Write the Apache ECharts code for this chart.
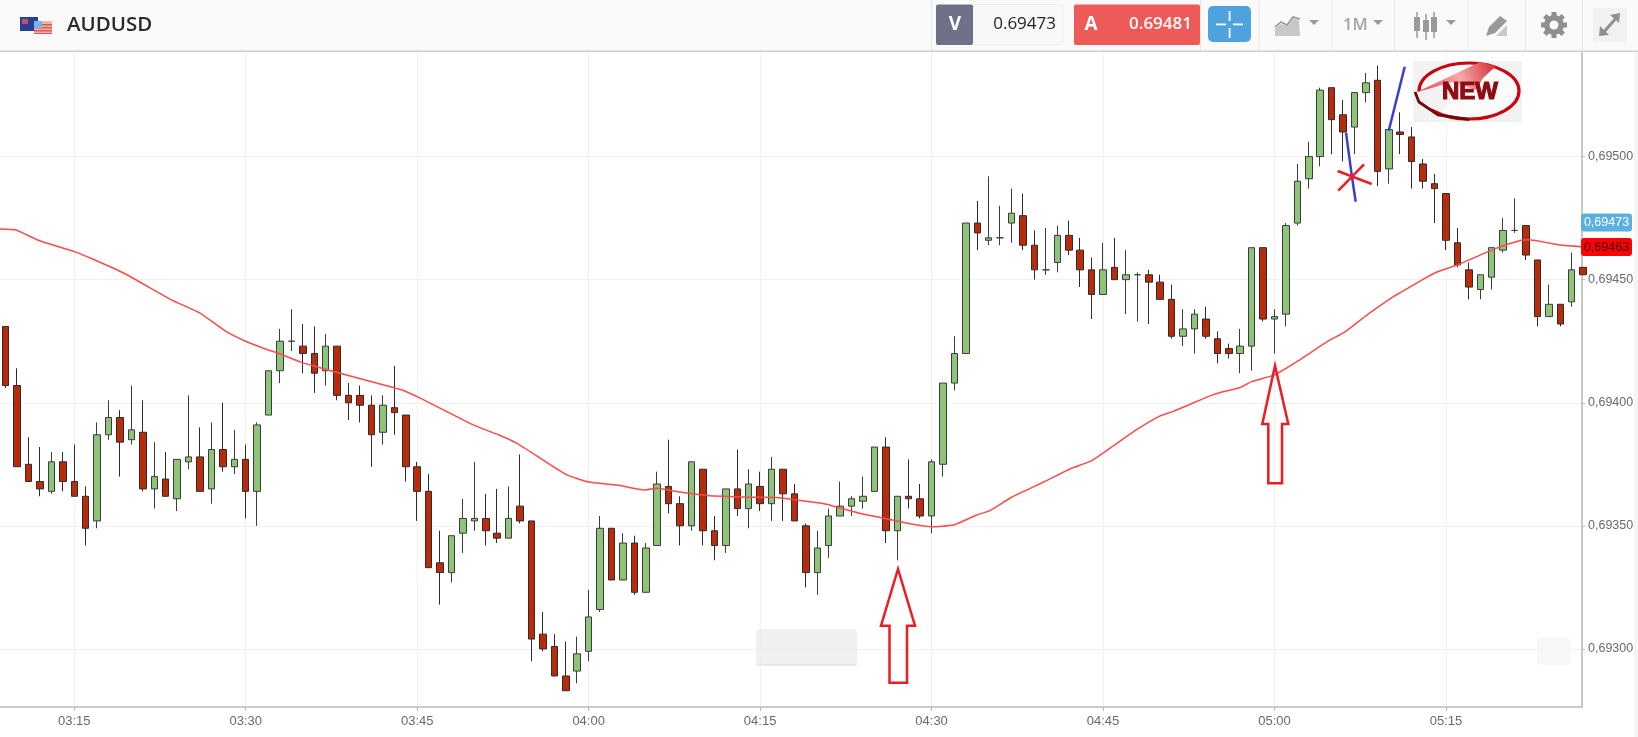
<!DOCTYPE html>
<html><head><meta charset="utf-8"><style>html,body{margin:0;padding:0;background:#fff}#c{width:1638px;height:737px}</style>
<script src="https://cdn.jsdelivr.net/npm/echarts@6/dist/echarts.min.js"></script></head><body><div id="c"></div><script>
const title = 'AUDUSD';
const firstMinute = 189; // 03:09, one candle per minute
const opens = [0.69431,0.69407,0.69375,0.69368,0.69364,0.69376,0.69368,0.69362,0.69352,0.69387,0.69394,0.69385,0.69388,0.69365,0.69369,0.69361,0.69376,0.69378,0.69365,0.69381,0.69374,0.69377,0.69364,0.69395,0.69413,0.69425,0.69423,0.69420,0.69413,0.69423,0.69403,0.69403,0.69399,0.69388,0.69398,0.69395,0.69374,0.69364,0.69335,0.69331,0.69347,0.69352,0.69353,0.69347,0.69345,0.69358,0.69352,0.69306,0.69301,0.69289,0.69291,0.69299,0.69316,0.69349,0.69328,0.69343,0.69323,0.69342,0.69366,0.69359,0.69350,0.69373,0.69348,0.69342,0.69365,0.69357,0.69366,0.69359,0.69373,0.69363,0.69350,0.69331,0.69342,0.69354,0.69358,0.69360,0.69364,0.69382,0.69348,0.69362,0.69361,0.69354,0.69375,0.69408,0.69420,0.69473,0.69466,0.69467,0.69473,0.69476,0.69464,0.69454,0.69457,0.69468,0.69462,0.69454,0.69444,0.69455,0.69450,0.69452,0.69452,0.69449,0.69442,0.69427,0.69430,0.69434,0.69426,0.69422,0.69420,0.69423,0.69463,0.69434,0.69436,0.69473,0.69491,0.69500,0.69528,0.69517,0.69512,0.69526,0.69531,0.69495,0.69510,0.69508,0.69497,0.69489,0.69485,0.69465,0.69454,0.69446,0.69451,0.69462,0.69470,0.69472,0.69458,0.69435,0.69440,0.69441,0.69455];
const closes = [0.69407,0.69374,0.69368,0.69365,0.69376,0.69368,0.69362,0.69349,0.69387,0.69394,0.69384,0.69389,0.69365,0.69370,0.69362,0.69377,0.69378,0.69364,0.69381,0.69374,0.69377,0.69364,0.69391,0.69413,0.69425,0.69425,0.69420,0.69412,0.69423,0.69403,0.69400,0.69399,0.69387,0.69399,0.69396,0.69374,0.69364,0.69333,0.69331,0.69346,0.69353,0.69353,0.69348,0.69345,0.69353,0.69352,0.69304,0.69300,0.69289,0.69283,0.69298,0.69313,0.69349,0.69328,0.69343,0.69323,0.69341,0.69367,0.69359,0.69350,0.69376,0.69348,0.69342,0.69365,0.69357,0.69367,0.69359,0.69373,0.69363,0.69352,0.69331,0.69341,0.69354,0.69358,0.69361,0.69362,0.69382,0.69348,0.69362,0.69361,0.69354,0.69376,0.69408,0.69420,0.69473,0.69469,0.69467,0.69467,0.69477,0.69464,0.69454,0.69454,0.69468,0.69462,0.69454,0.69444,0.69454,0.69450,0.69452,0.69452,0.69449,0.69442,0.69427,0.69430,0.69436,0.69427,0.69420,0.69420,0.69423,0.69463,0.69434,0.69435,0.69472,0.69490,0.69500,0.69527,0.69515,0.69510,0.69526,0.69530,0.69494,0.69511,0.69509,0.69498,0.69490,0.69487,0.69466,0.69456,0.69447,0.69452,0.69463,0.69470,0.69470,0.69460,0.69435,0.69440,0.69432,0.69454,0.69452];
const lows = [0.69406,0.69374,0.69368,0.69362,0.69363,0.69364,0.69362,0.69342,0.69349,0.69385,0.69370,0.69383,0.69364,0.69357,0.69362,0.69356,0.69373,0.69364,0.69359,0.69372,0.69371,0.69353,0.69350,0.69395,0.69408,0.69421,0.69412,0.69404,0.69407,0.69401,0.69393,0.69392,0.69374,0.69383,0.69387,0.69368,0.69352,0.69333,0.69318,0.69327,0.69339,0.69348,0.69342,0.69343,0.69345,0.69351,0.69295,0.69299,0.69289,0.69283,0.69286,0.69295,0.69315,0.69328,0.69328,0.69322,0.69323,0.69342,0.69355,0.69342,0.69348,0.69342,0.69336,0.69339,0.69354,0.69349,0.69356,0.69352,0.69352,0.69352,0.69325,0.69322,0.69337,0.69354,0.69354,0.69357,0.69364,0.69343,0.69336,0.69357,0.69353,0.69347,0.69370,0.69405,0.69420,0.69462,0.69464,0.69464,0.69465,0.69462,0.69450,0.69452,0.69453,0.69460,0.69447,0.69434,0.69444,0.69450,0.69436,0.69433,0.69432,0.69442,0.69426,0.69423,0.69420,0.69426,0.69416,0.69418,0.69412,0.69413,0.69433,0.69420,0.69431,0.69472,0.69487,0.69496,0.69501,0.69498,0.69501,0.69522,0.69488,0.69489,0.69501,0.69487,0.69487,0.69473,0.69462,0.69455,0.69442,0.69442,0.69446,0.69461,0.69469,0.69458,0.69431,0.69435,0.69431,0.69439,0.69452];
const highs = [0.69431,0.69414,0.69386,0.69382,0.69380,0.69380,0.69383,0.69366,0.69392,0.69401,0.69397,0.69407,0.69401,0.69384,0.69380,0.69377,0.69403,0.69390,0.69392,0.69400,0.69389,0.69383,0.69392,0.69413,0.69430,0.69438,0.69432,0.69431,0.69428,0.69423,0.69408,0.69407,0.69403,0.69403,0.69415,0.69395,0.69376,0.69371,0.69348,0.69346,0.69361,0.69376,0.69363,0.69365,0.69366,0.69379,0.69352,0.69315,0.69306,0.69303,0.69305,0.69324,0.69354,0.69349,0.69347,0.69346,0.69343,0.69372,0.69385,0.69362,0.69376,0.69373,0.69354,0.69365,0.69381,0.69373,0.69372,0.69378,0.69373,0.69367,0.69351,0.69348,0.69357,0.69368,0.69362,0.69370,0.69382,0.69386,0.69362,0.69377,0.69367,0.69377,0.69408,0.69427,0.69473,0.69482,0.69492,0.69480,0.69487,0.69485,0.69470,0.69471,0.69472,0.69474,0.69467,0.69459,0.69465,0.69467,0.69462,0.69453,0.69454,0.69452,0.69448,0.69438,0.69438,0.69439,0.69429,0.69424,0.69430,0.69463,0.69463,0.69438,0.69473,0.69497,0.69506,0.69528,0.69528,0.69523,0.69526,0.69534,0.69537,0.69511,0.69518,0.69512,0.69499,0.69493,0.69485,0.69471,0.69457,0.69452,0.69463,0.69475,0.69483,0.69472,0.69458,0.69448,0.69440,0.69461,0.69455];
const maMinutes = [188.5,189.9,191.9,195,196.6,199.4,203.5,206,208.2,209.9,212.1,212.7,214.75,215.9,218,222.9,223.9,225.3,229.9,232.25,233.7,236,238.1,240,242.5,244.9,246,248,250.3,254.1,256.4,258.8,260.8,263.7,265.8,268.1,270,271.9,273.95,275.1,277,279.9,282.1,284,285.9,287.9,290,291.1,294.4,295.2,297,298,300,302.2,304.6,306.2,308.1,310.4,311,312.8,314.1,316,319.2,321.5,322.2,325,326.9];
const maValues = [0.694706,0.694702,0.694659,0.694614,0.694584,0.694525,0.694418,0.694364,0.694292,0.694252,0.694212,0.694204,0.694166,0.69415,0.694123,0.694062,0.694048,0.694018,0.69391,0.693867,0.693836,0.693768,0.693707,0.693678,0.693666,0.693646,0.693653,0.693637,0.693623,0.693616,0.693615,0.693601,0.693588,0.693551,0.693531,0.693508,0.693496,0.693503,0.693544,0.693562,0.693616,0.69368,0.693731,0.693765,0.693825,0.69389,0.693947,0.693964,0.694029,0.694041,0.694062,0.694086,0.694113,0.694174,0.694248,0.694289,0.694357,0.694431,0.694447,0.694496,0.694529,0.69456,0.694624,0.694659,0.694662,0.694641,0.694634];
const timeTicks = ['03:15','03:30','03:45','04:00','04:15','04:30','04:45','05:00','05:15'];
const priceTicks = [0.693,0.6935,0.694,0.6945,0.695];
const bidLabel = '0.69473', askLabel = '0.69481', bidTag = '0,69473', maTag = '0,69463';

const candles = opens.map((o,i)=>[firstMinute+i,o,closes[i],lows[i],highs[i]]);
const maLine = maMinutes.map((m,i)=>[m,maValues[i]]);
const toClock = m => String(Math.floor(m/60)).padStart(2,'0')+':'+String(m%60).padStart(2,'0');
const SANS='"Open Sans",sans-serif', ARIAL='"Liberation Sans",Arial,sans-serif';
const rect=(x,y,w,h,fill,extra={})=>({type:'rect',shape:{x,y,width:w,height:h,r:extra.r||0},style:{fill,stroke:extra.stroke,lineWidth:extra.lw||0},z:extra.z||5,silent:true});
const txt=(x,y,text,font,fill,align='left',z=8)=>({type:'text',x,y,style:{text,font,fill,align,verticalAlign:'middle'},z,silent:true});
const poly=(pts,stroke,lw,fill)=>({type:'polyline',shape:{points:pts},style:{stroke,lineWidth:lw,fill:fill||null,lineJoin:'miter'},z:9,silent:true});
const pgon=(pts,fill)=>({type:'polygon',shape:{points:pts},style:{fill},z:9,silent:true});
const arrow=(tip,l,il,b,r,ir,sy,by)=>({type:'polygon',shape:{points:[[tip[0],tip[1]],[l,sy],[il,sy],[il,by],[ir,by],[ir,sy],[r,sy]]},style:{fill:null,stroke:'#ed1c24',lineWidth:2.5},z:9,silent:true});
const G='#9a9a9a';
const curl=new echarts.graphic.LinearGradient(0,1,1,0,[{offset:0,color:'#f03a44'},{offset:0.55,color:'#f7a9ac'},{offset:1,color:'#d2282e'}]);
const graphics=[
 rect(0,0,1638,51,'#fafafa',{z:4}), rect(0,50.5,1638,1.5,'#cfcfcf',{z:4}),
 rect(1634,52,4,685,'#f5f5f5',{z:4}),
 // flags
 rect(20,17,18,14,'#2b3f92',{z:6}), rect(22,19,6,5,'#c9506a',{z:6}),
 rect(34,21,18,13,'#f3b3ac',{z:7}),rect(34,24,18,1.5,'#e2574c',{z:7}),rect(34,27,18,1.5,'#e2574c',{z:7}),rect(34,30,18,1.5,'#e2574c',{z:7}),rect(34,33,18,1,'#e2574c',{z:7}),rect(34,21,8,7,'#6db6ee',{z:7}),
 txt(67,25,title,'600 20.5px '+SANS,'#2a2a2a'),
 // dividers
 ...[931,1200,1258.5,1331.5,1394,1467.5,1525,1582].map(x=>rect(x,0,1,51,'#e6e6e6')),
 // bid
 rect(973,4.5,90,40.5,'#f8f8f8',{r:3,stroke:'#ececec',lw:1}), rect(936,4.5,37,40.5,'#6e7187',{r:2}),
 txt(955,25,'V','700 19px '+SANS,'#fff','center'), txt(1056,24,bidLabel,'500 17px '+SANS,'#222','right'),
 // ask
 rect(1074,4.5,126,40.5,'#ee5a58',{r:2}),
 txt(1091,25,'A','700 19px '+SANS,'#fff','center'), txt(1192,24,askLabel,'600 17px '+SANS,'#fff','right'),
 // crosshair button
 rect(1208,6,43,36,'#4ea3df',{r:5}),
 rect(1216,23.5,10,1.8,'#fff',{z:8}),rect(1233,23.5,10,1.8,'#fff',{z:8}),rect(1228.7,11,1.8,10,'#fff',{z:8}),rect(1228.7,28,1.8,10,'#fff',{z:8}),
 // chart type icon
 pgon([[1275,36],[1275,28],[1281,24],[1287,26],[1293,18],[1299,20],[1300,36]],'#c8c8c8'),
 poly([[1275,27],[1281,22],[1287,25],[1293,17],[1300,19]],'#999',1.6),
 pgon([[1309,20],[1319,20],[1314,25]],G),
 txt(1343,25,'1M','600 16.5px '+SANS,'#a4a4a4'), pgon([[1373,20],[1383,20],[1378,25]],G),
 // candles icon
 rect(1414,17,6,14,G),rect(1416.3,12,1.5,26,G),rect(1423,20,6,12,G),rect(1425.3,14,1.5,26,G),rect(1431,17,6,15,G),rect(1433.3,12,1.5,26,G),
 pgon([[1446,20],[1456,20],[1451,25]],G),
 // pencil icon
 pgon([[1486,36],[1489,27],[1500,16],[1507,21],[1495,33]],'#999'), pgon([[1496,36],[1507,25],[1507,36]],'#c8c8c8'),
 // gear
 {type:'ring',shape:{cx:1554,cy:25,r:10,r0:4.5},style:{fill:'#8f8f8f'},z:8,silent:true},
 ...[0,45,90,135].map(a=>({type:'rect',x:1554,y:25,originX:0,originY:0,rotation:a*Math.PI/180,shape:{x:-13,y:-2.5,width:26,height:5},style:{fill:'#8f8f8f'},z:7,silent:true})),
 {type:'circle',shape:{cx:1554,cy:25,r:4.5},style:{fill:'#fafafa'},z:8,silent:true},
 // expand
 rect(1593,8,34,34,'#f1f1f1'),
 poly([[1603,33],[1617,17]],'#909090',3), pgon([[1610,15],[1620,13],[1619,23]],'#909090'), pgon([[1600,26],[1599,36],[1609,35]],'#909090'),
 // soft boxes on the plot
 rect(756,629,101,36.5,'rgba(236,236,236,0.8)',{r:4,z:1}), rect(756,664.5,101,1,'#dcdcdc',{z:1}),
 rect(1537,637.5,34,27.5,'rgba(247,247,247,0.85)',{r:4,z:1}),
 // annotations
 arrow([898,569],881,889.5,0,915,907,625.7,682.7),
 arrow([1275,365.7],1262.3,1268.3,0,1288.3,1282,424,483.3),
 poly([[1346,132.7],[1351.7,175],[1355.7,201.7]],'#3b3fd0',2.5),
 poly([[1388.7,130.7],[1404.7,66.7]],'#3b3fd0',2.5),
 poly([[1337.7,171],[1371.7,184]],'#ed1c24',2.5),
 poly([[1338.3,190.7],[1364,164.3]],'#ed1c24',2.5),
 // NEW sticker
 rect(1413,61,109,61,'#f2f2f2',{z:8}),
 {type:'ellipse',shape:{cx:1469,cy:91,rx:50,ry:28},style:{fill:'#fbfbfb',stroke:'#c8070d',lineWidth:3.2},z:8,silent:true},
 pgon([[1415,93],[1480,62],[1496,66],[1483,78],[1476,90],[1452,82]],curl),
 pgon([[1413,93],[1438,87],[1456,94],[1442,112],[1418,104]],'#f2f2f2'),
 poly([[1415,92],[1419,102],[1438,115],[1469,119.5]],'#6f0a0a',2.8),
 {type:'text',x:1470,y:92,style:{text:'NEW',font:'900 24px "Liberation Sans",Arial,sans-serif',fill:'#8f0d12',align:'center',verticalAlign:'middle',stroke:'#8f0d12',lineWidth:1.2},z:10,silent:true},
 // price tags
 rect(1581,213.5,51,18,'#5ab0e0',{r:3,z:8}), txt(1606.5,223,bidTag,'12.5px '+ARIAL,'#fff','center',9),
 rect(1581,238,51,18,'#ff0000',{r:3,z:8}), txt(1606.5,247.5,maTag,'12.5px '+ARIAL,'#3a0000','center',9)
];
const axisGrey='#b9b9b9', labelGrey='#6a6a6a', gridGrey='#f1f1f1';
echarts.init(document.getElementById('c'),null,{renderer:'canvas'}).setOption({
 animation:false, backgroundColor:'#fff',
 grid:{left:-97.2,right:56,top:51,bottom:30,containLabel:false,outerBoundsMode:'none'},
 xAxis:{type:'value',min:180,max:326.9,interval:15,
  axisLine:{onZero:false,lineStyle:{color:axisGrey,width:1.5}},
  axisTick:{length:4,lineStyle:{color:axisGrey}},
  splitLine:{show:true,lineStyle:{color:gridGrey,width:1}},
  axisLabel:{showMaxLabel:false,color:labelGrey,fontFamily:'Liberation Sans',fontSize:13,margin:8,
   formatter:v=>{const t=toClock(Math.round(v));return timeTicks.includes(t)?t:'';}}},
 yAxis:{type:'value',position:'right',min:0.692764,max:0.695429,scale:true,splitNumber:5,
  axisLine:{show:true,onZero:false,lineStyle:{color:axisGrey,width:1.5}},
  axisTick:{show:true,length:3,customValues:priceTicks,lineStyle:{color:axisGrey}},
  splitLine:{show:true,lineStyle:{color:gridGrey,width:1}},
  axisLabel:{customValues:priceTicks,color:labelGrey,fontFamily:'Liberation Sans',fontSize:12.5,margin:6,
   formatter:v=>v.toFixed(5).replace('.',',')}},
 series:[
  {type:'candlestick',data:candles,barWidth:7,z:3,
   itemStyle:{color:'#8dc47a',color0:'#b92b0a',borderColor:'#3c3c3c',borderColor0:'#2c2c2c',borderColorDoji:'#3c3c3c',borderWidth:1}},
  {type:'line',data:maLine,showSymbol:false,silent:true,z:4,smooth:0.15,lineStyle:{color:'#ff4a4a',width:1.5}}
 ],
 graphic:{elements:graphics}
});
</script></body></html>
